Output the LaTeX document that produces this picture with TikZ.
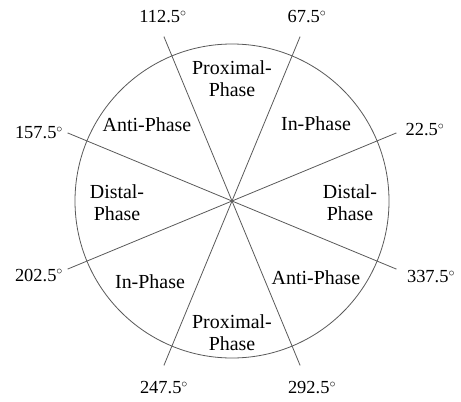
\documentclass[tikz,border=0pt]{standalone}
\usepackage{fontspec}
\setmainfont{Liberation Serif}
\usetikzlibrary{calc}
\begin{document}
\begin{tikzpicture}[x=1bp,y=1bp,
  ray/.style={draw=black!65,line width=0.8bp},
  ring/.style={draw=black!65,line width=0.8bp},
  anglab/.style={font=\fontsize{18.5}{22}\selectfont,inner sep=0pt},
  seclab/.style={font=\fontsize{20}{22}\selectfont,align=center,inner sep=0pt}]
\useasboundingbox (0,0) rectangle (461,401);
\coordinate (c) at (232,200);
\draw[ring] (c) circle (157);
\foreach \a/\n in {22.5/a,67.5/b,112.5/d,157.5/e,202.5/f,247.5/g,292.5/h,337.5/i}
  \coordinate (\n) at ($(c)+(\a:178)$);
\draw[ray] (a) -- (f);
\draw[ray] (b) -- (g);
\draw[ray] (d) -- (h);
\draw[ray] (e) -- (i);
\node[anglab] (la) at (425,271) {22.5$^\circ$};
\node[anglab] (lb) at (307,384) {67.5$^\circ$};
\node[anglab] (ld) at (163,384) {112.5$^\circ$};
\node[anglab] (le) at (39,268) {157.5$^\circ$};
\node[anglab] (lf) at (39,126) {202.5$^\circ$};
\node[anglab] (lg) at (164,13) {247.5$^\circ$};
\node[anglab] (lh) at (312,13) {292.5$^\circ$};
\node[anglab] (li) at (431,124) {337.5$^\circ$};
\node[seclab] (s1) at (232,322) {Proximal-\\Phase};
\node[seclab] (s2) at (316,277) {In-Phase};
\node[seclab] (s3) at (147,276) {Anti-Phase};
\node[seclab] (s4) at (117,198) {Distal-\\Phase};
\node[seclab] (s5) at (350,198) {Distal-\\Phase};
\node[seclab] (s6) at (150,119) {In-Phase};
\node[seclab] (s7) at (316,123) {Anti-Phase};
\node[seclab] (s8) at (232,68) {Proximal-\\Phase};
\end{tikzpicture}
\end{document}
